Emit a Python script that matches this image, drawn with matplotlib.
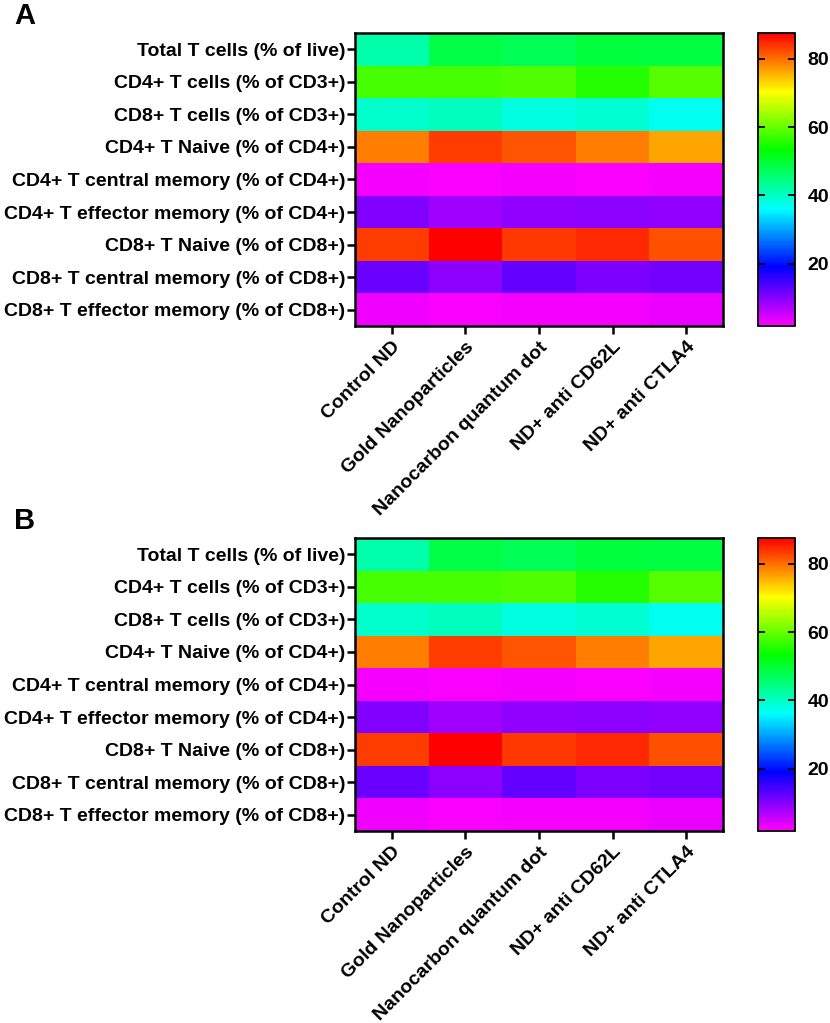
import numpy as np
import matplotlib
matplotlib.use("Agg")
import matplotlib.pyplot as plt
from matplotlib.colors import LinearSegmentedColormap

plt.rcParams["font.family"] = ["Liberation Sans", "DejaVu Sans"]
plt.rcParams["font.weight"] = "bold"

# Data
groups = ["Control ND", "Gold Nanoparticles", "Nanocarbon quantum dot",
          "ND+ anti CD62L", "ND+ anti CTLA4"]
populations = [
    "Total T cells (% of live)",
    "CD4+ T cells (% of CD3+)",
    "CD8+ T cells (% of CD3+)",
    "CD4+ T Naive (% of CD4+)",
    "CD4+ T central memory (% of CD4+)",
    "CD4+ T effector memory (% of CD4+)",
    "CD8+ T Naive (% of CD8+)",
    "CD8+ T central memory (% of CD8+)",
    "CD8+ T effector memory (% of CD8+)",
]

# one row per population, one column per group
total_t = [41.8, 48.6, 47.5, 49.2, 48.8]
cd4_t = [57.8, 58.0, 58.4, 55.5, 59.0]
cd8_t = [39.5, 40.4, 38.1, 39.2, 37.2]
cd4_naive = [78.9, 83.2, 81.8, 78.9, 76.4]
cd4_cm = [2.5, 2.3, 2.6, 2.4, 2.5]
cd4_em = [10.4, 8.2, 9.2, 9.5, 9.2]
cd8_naive = [83.2, 87.3, 83.5, 84.8, 82.1]
cd8_cm = [12.1, 9.8, 12.4, 10.7, 11.2]
cd8_em = [3.0, 2.2, 2.8, 2.5, 3.3]

panel_a = np.array([total_t, cd4_t, cd8_t, cd4_naive, cd4_cm,
                    cd4_em, cd8_naive, cd8_cm, cd8_em])
panel_b = panel_a.copy()  # panel B shows the same values

vmin, vmax = 1.8, 87.5
cbar_ticks = [20, 40, 60, 80]

# prism-like rainbow, magenta (low) -> red (high)
rainbow = LinearSegmentedColormap.from_list(
    "prism_rainbow",
    ["#ff00ff", "#0000ff", "#00ffff", "#00ff00", "#ffff00", "#ff0000"])

W, H = 830, 1023
fig = plt.figure(figsize=(W / 100, H / 100), dpi=100)


def draw_panel(values, top_px, letter):
    ax = fig.add_axes([355 / W, 1 - (top_px + 293) / H, 368 / W, 293 / H])
    cax = fig.add_axes([758 / W, 1 - (top_px + 293) / H, 37 / W, 293 / H])

    mesh = ax.pcolormesh(values, cmap=rainbow, vmin=vmin, vmax=vmax)
    ax.set_xlim(0, len(groups))
    ax.set_ylim(len(populations), 0)

    ax.set_yticks(np.arange(len(populations)) + 0.5)
    ax.set_yticklabels(populations, fontsize=14, fontweight="bold")
    ax.set_xticks(np.arange(len(groups)) + 0.5)
    ax.set_xticklabels(groups, fontsize=14, fontweight="bold",
                       rotation=45, ha="right", rotation_mode="anchor")
    ax.tick_params(length=6, width=1.8)
    ax.tick_params(axis="y", pad=1)
    ax.tick_params(axis="x", pad=3)
    for s in ax.spines.values():
        s.set_linewidth(1.8)

    cb = fig.colorbar(mesh, cax=cax, ticks=cbar_ticks)
    cb.outline.set_linewidth(1.3)
    cax.tick_params(direction="in", left=True, right=True, length=5,
                    width=1.3, labelsize=14, pad=9)
    for t in cax.get_yticklabels():
        t.set_fontweight("bold")

    fig.text(14 / W, 1 - (top_px - 31) / H, letter, fontsize=21,
             fontweight="bold", ha="left", va="top")


draw_panel(panel_a, 33, "A")
draw_panel(panel_b, 538, "B")

fig.savefig("out.png", dpi=100)
